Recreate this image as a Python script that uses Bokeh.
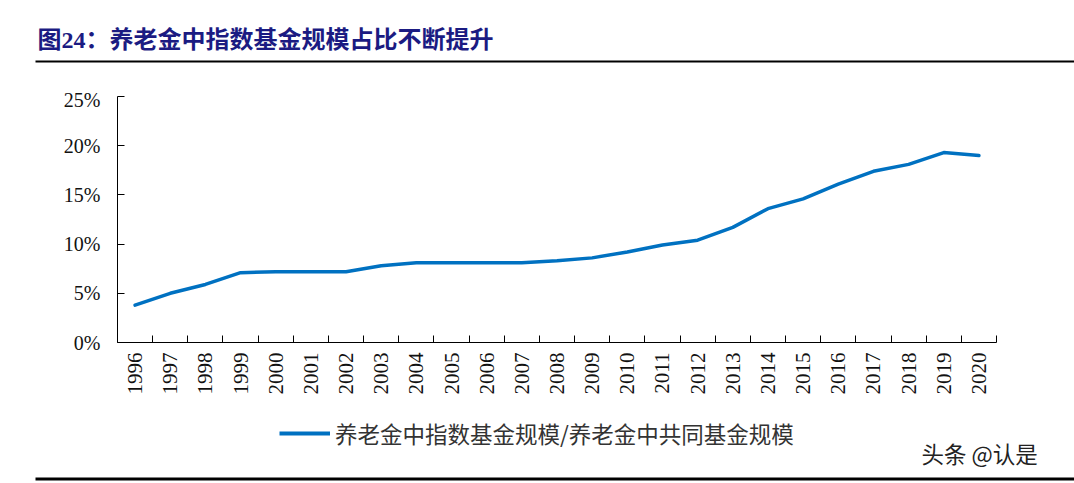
import math
from bokeh.plotting import figure
from bokeh.layouts import column
from bokeh.models import (Range1d, FixedTicker, NumeralTickFormatter, Label,
                          BoxAnnotation, Legend, LegendItem)
from bokeh.embed import file_html
from bokeh.resources import INLINE

# ---- data ----
title_text = "图24：养老金中指数基金规模占比不断提升"
series_name = "养老金中指数基金规模/养老金中共同基金规模"
watermark = "头条 @认是"
years = [1996, 1997, 1998, 1999, 2000, 2001, 2002, 2003, 2004, 2005, 2006, 2007,
         2008, 2009, 2010, 2011, 2012, 2013, 2014, 2015, 2016, 2017, 2018, 2019, 2020]
share = [0.038, 0.050, 0.059, 0.071, 0.072, 0.072, 0.072, 0.078, 0.081, 0.081, 0.081, 0.081,
         0.083, 0.086, 0.092, 0.099, 0.104, 0.117, 0.136, 0.146, 0.161, 0.174, 0.181, 0.193, 0.190]
y_ticks = [0.0, 0.05, 0.10, 0.15, 0.20, 0.25]

SERIF = "'Liberation Serif', 'Noto Sans CJK SC'"
CJK = "'Noto Sans CJK SC'"
BLUE = "#0071C1"
W = 1074
TOP_H, MAIN_H, BOT_H = 88, 322, 73


def blank(h):
    f = figure(width=W, height=h, output_backend="svg", toolbar_location=None,
               x_axis_type=None, y_axis_type=None, min_border=0, frame_align=False,
               x_range=Range1d(0, 1), y_range=Range1d(0, 1))
    f.outline_line_color = None
    f.grid.grid_line_color = None
    return f


def hrule(f, h, top_py, y0, y1, x0=35, x1=W):
    # y0, y1 are page pixels; converted to frame coords (measured from bottom)
    f.add_layout(BoxAnnotation(left=x0, right=x1, top=h - (y0 - top_py), bottom=h - (y1 - top_py),
                               left_units="screen", right_units="screen", top_units="screen",
                               bottom_units="screen", fill_color="black", fill_alpha=1,
                               line_color=None))


# ---- top: title + rule ----
top = blank(TOP_H)
top.add_layout(Label(x=37, y=TOP_H - 39, x_units="screen", y_units="screen", text=title_text,
                     text_font=SERIF, text_font_style="bold", text_font_size="24px",
                     text_color="#1B1B82", text_baseline="middle", text_align="left"))
hrule(top, TOP_H, 0, 60, 62)

# ---- main chart ----
p = figure(width=W, height=MAIN_H, output_backend="svg", toolbar_location=None,
           x_range=Range1d(years[0] - 0.5, years[-1] + 0.5), y_range=Range1d(0, 0.25),
           frame_width=879, frame_height=246, frame_align=False,
           min_border_left=117, min_border_right=78, min_border_top=8, min_border_bottom=68)
p.outline_line_color = None
p.grid.grid_line_color = None

p.line(years, share, line_color=BLUE, line_width=3.5, line_join="round", line_cap="round")

xa = p.xaxis[0]
xa.ticker = FixedTicker(ticks=years, minor_ticks=[y - 0.5 for y in years] + [years[-1] + 0.5])
xa.major_tick_line_color = None
xa.major_tick_in = 0
xa.major_tick_out = 0
xa.minor_tick_in = 7
xa.minor_tick_out = 0
xa.minor_tick_line_color = "black"
xa.axis_line_color = "black"
xa.major_label_orientation = math.pi / 2
xa.major_label_text_font = SERIF
xa.major_label_text_font_size = "21px"
xa.major_label_text_color = "#111111"
xa.major_label_standoff = 10

ya = p.yaxis[0]
ya.ticker = FixedTicker(ticks=y_ticks, minor_ticks=[])
ya.formatter = NumeralTickFormatter(format="0%")
ya.major_tick_in = 7
ya.major_tick_out = 0
ya.minor_tick_line_color = None
ya.axis_line_color = "black"
ya.major_label_text_font = SERIF
ya.major_label_text_font_size = "20px"
ya.major_label_text_color = "#111111"
ya.major_label_standoff = 17

# ---- bottom: legend + watermark + rule ----
BOT_TOP = TOP_H + MAIN_H
bot = blank(BOT_H)
# legend swatch renderer (no visible data; only provides the legend glyph style)
swatch = bot.line(x=[float("nan")], y=[float("nan")], line_color=BLUE, line_width=4)
legend = Legend(items=[LegendItem(label=series_name, renderers=[swatch])],
                location=(279, BOT_H - (449 - BOT_TOP)), orientation="horizontal",
                glyph_width=51, glyph_height=24, label_standoff=5, padding=0, margin=0,
                border_line_color=None, background_fill_alpha=0,
                label_text_font=CJK, label_text_font_size="22.5px", label_text_color="#333333")
bot.add_layout(legend, "center")
bot.add_layout(Label(x=921, y=BOT_H - (452 - BOT_TOP), x_units="screen", y_units="screen",
                     text=watermark, text_font=CJK, text_font_size="22.5px", text_color="#222222",
                     text_baseline="middle", text_align="left"))
hrule(bot, BOT_H, BOT_TOP, 477, 480)

layout = column(top, p, bot, spacing=0)
open("out.html", "w").write(file_html(layout, INLINE))
